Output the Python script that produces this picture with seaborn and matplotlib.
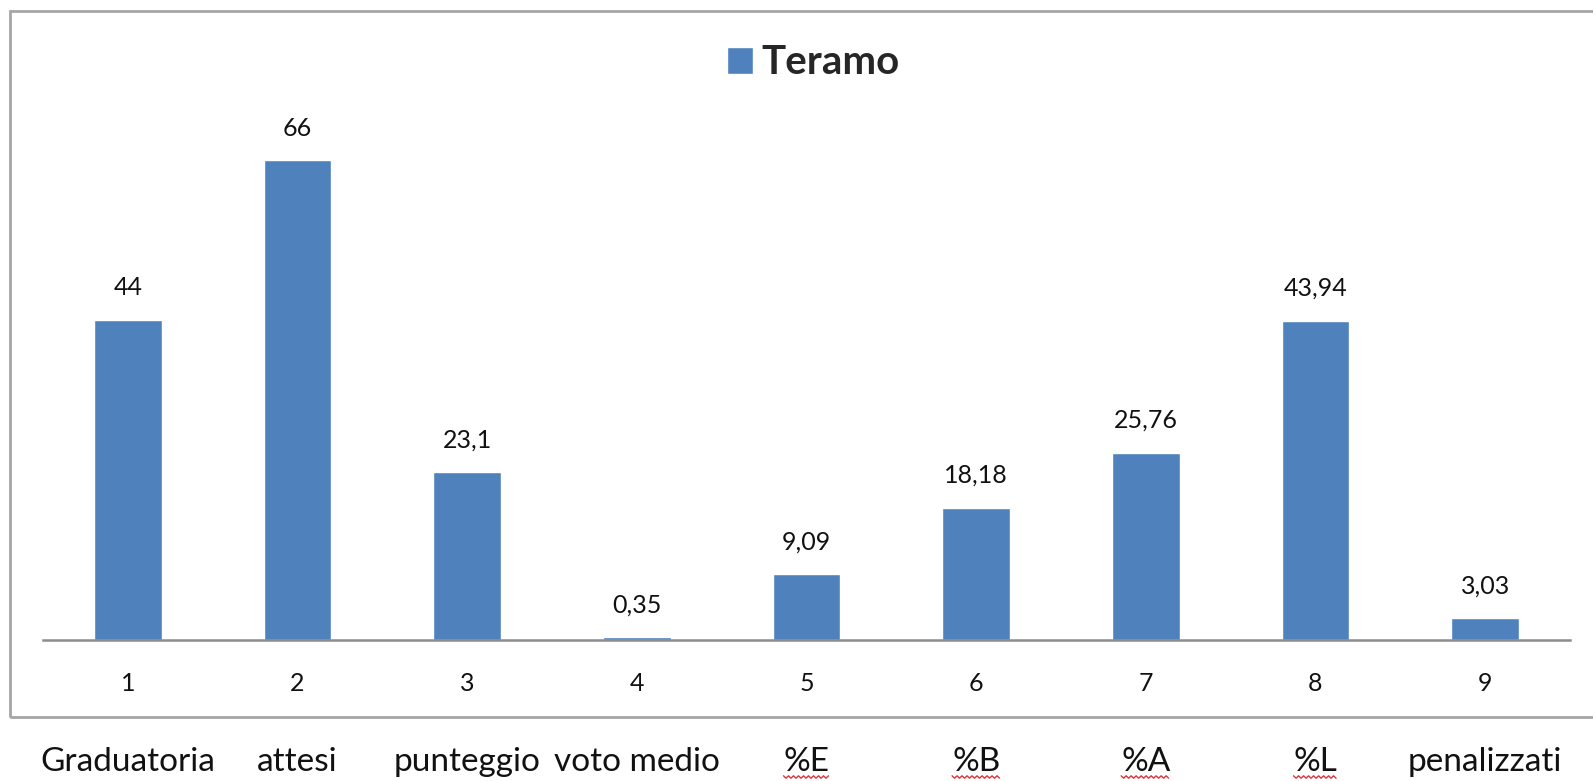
import matplotlib
matplotlib.use("Agg")
import matplotlib.pyplot as plt
import seaborn as sns
import pandas as pd
import numpy as np
from matplotlib.patches import Rectangle
from matplotlib.lines import Line2D

numbers = ["1", "2", "3", "4", "5", "6", "7", "8", "9"]
categories = ["Graduatoria", "attesi", "punteggio", "voto medio", "%E", "%B", "%A", "%L", "penalizzati"]
values = [44, 66, 23.1, 0.35, 9.09, 18.18, 25.76, 43.94, 3.03]
series_name = "Teramo"
spellcheck_marked = ["%E", "%B", "%A", "%L"]

sns.set_theme(style="white")
plt.rcParams["font.family"] = ["Lato", "DejaVu Sans"]

W, H = 1593, 781
fig = plt.figure(figsize=(W / 100, H / 100), dpi=100)
ax = fig.add_axes([43 / W, 141 / H, 1527 / W, 508.6 / H])

df = pd.DataFrame({"num": numbers, "value": values, "series": series_name})
sns.barplot(data=df, x="num", y="value", hue="series", palette=["#4F81BD"],
            width=0.4, saturation=1, ax=ax, legend=True)

ax.set_xlim(-0.5, 8.5)
ax.set_ylim(0, 70)
for s in ["top", "right", "left"]:
    ax.spines[s].set_visible(False)
ax.spines["bottom"].set_color("#8C8C8C")
ax.spines["bottom"].set_linewidth(1.8)
ax.spines["bottom"].set_zorder(5)
ax.set_yticks([])
ax.set_xlabel("")
ax.set_ylabel("")
ax.tick_params(axis="x", length=0, pad=23, labelsize=18, colors="#111111")

labels = [f"{v:g}".replace(".", ",") for v in values]
ax.bar_label(ax.containers[0], labels=labels, padding=15, fontsize=18, color="#111111")

# category names below the frame
trans = matplotlib.transforms.blended_transform_factory(ax.transData, fig.transFigure)
cat_texts = []
for i, c in enumerate(categories):
    t = ax.text(i, 1 - 771 / H, c, transform=trans, ha="center", va="baseline",
                fontsize=24, color="#111111", clip_on=False)
    cat_texts.append(t)

# legend
handles, leg_labels = ax.get_legend_handles_labels()
ax.get_legend().remove()
fig.legend(handles, leg_labels, loc="center", bbox_to_anchor=(813 / W, 1 - 63 / H),
           frameon=False, prop={"weight": "bold", "size": 29},
           handlelength=0.65, handleheight=0.65, handletextpad=0.2)

# outer frame
fig.patches.append(Rectangle((10 / W, 1 - 717 / H), (W + 10) / W, (717 - 11) / H,
                             transform=fig.transFigure, fill=False,
                             edgecolor="#A6A6A6", linewidth=2, zorder=0))

# spell-check squiggles under some labels (as in the screenshot)
fig.canvas.draw()
renderer = fig.canvas.get_renderer()
for t in cat_texts:
    if t.get_text() in spellcheck_marked:
        bb = t.get_window_extent(renderer)
        xs = np.arange(bb.x0, bb.x1 + 0.1, 2.5)
        ys = (H - 777) + np.where(np.arange(len(xs)) % 2 == 0, 1.2, -1.2)
        fig.lines.append(Line2D(xs / W, ys / H, transform=fig.transFigure,
                                color="#E0343A", linewidth=1.0))

fig.savefig("out.png", dpi=100)
